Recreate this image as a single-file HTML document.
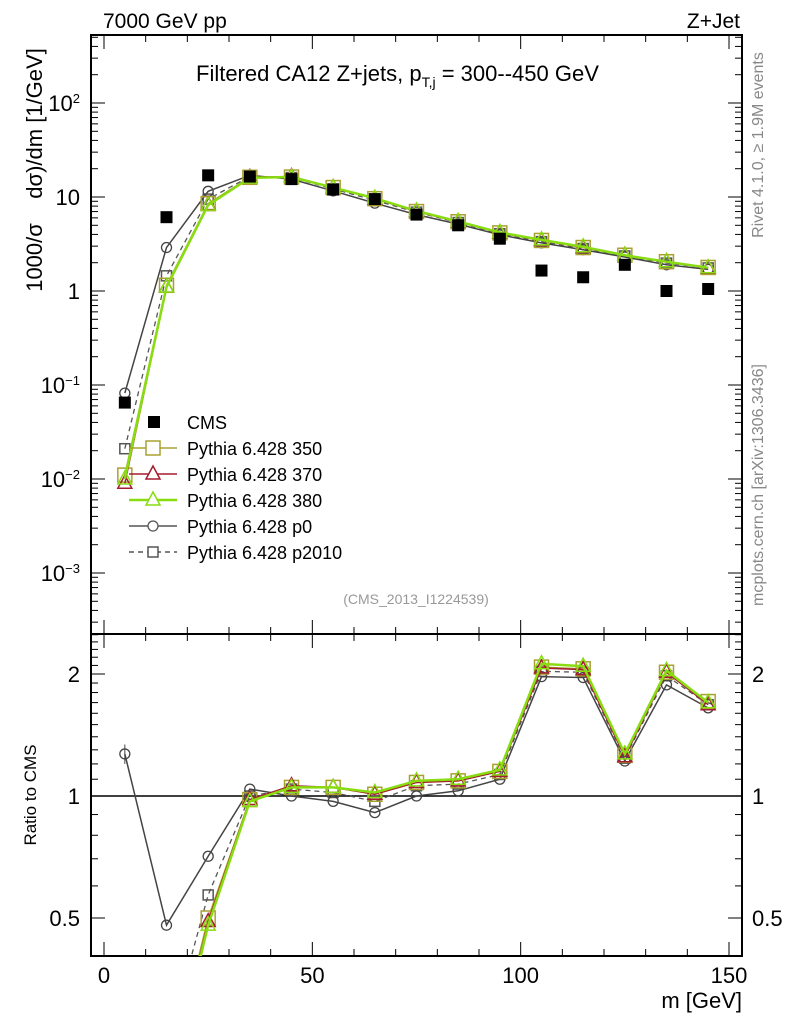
<!DOCTYPE html>
<html><head><meta charset="utf-8"><style>
html,body{margin:0;background:#fff;width:786px;height:1024px;overflow:hidden;}
#wrap{width:786px;height:1024px;overflow:hidden;}
svg{display:block;font-family:"Liberation Sans",sans-serif;}
</style></head><body>
<div id="wrap"></div>
<script>
var bins=[5,15,25,35,45,55,65,75,85,95,105,115,125,135,145];
var cms=[0.065,6.1,17,16.5,15.5,12,9.5,6.5,5,3.6,1.65,1.4,1.9,1.0,1.05];
var p350=[0.011,1.15,8.5,16.2,16.3,12.6,9.6,7.0,5.45,4.15,3.45,2.9,2.4,2.05,1.78];
var p370=[0.009,1.1,8.3,16.2,16.5,12.6,9.6,7.0,5.45,4.15,3.45,2.9,2.4,2.05,1.75];
var p380=[0.010,1.1,8.2,16.0,16.3,12.6,9.7,7.1,5.5,4.2,3.5,2.95,2.4,2.05,1.77];
var pp0=[0.082,2.9,11.5,17,15.5,11.6,8.6,6.5,5.15,3.96,3.25,2.75,2.3,1.9,1.7];
var p2010=[0.021,1.45,9.5,16.5,16.1,12.2,9.2,6.9,5.35,4.07,3.35,2.83,2.36,1.98,1.76];
var r350=[0.17,0.19,0.5,0.98,1.05,1.05,1.01,1.08,1.09,1.15,2.08,2.06,1.26,2.02,1.71];
var r370=[0.14,0.18,0.49,0.98,1.06,1.05,1.01,1.08,1.09,1.15,2.07,2.05,1.25,2.02,1.68];
var r380=[0.15,0.18,0.48,0.97,1.05,1.05,1.02,1.09,1.10,1.16,2.12,2.09,1.27,2.04,1.70];
var rp0=[1.27,0.48,0.71,1.04,1.0,0.97,0.91,1.0,1.03,1.10,1.97,1.96,1.22,1.88,1.65];
var r2010=[0.32,0.24,0.57,1.0,1.04,1.02,0.97,1.06,1.07,1.13,2.03,2.02,1.24,1.98,1.68];
var xTicks=[0,50,100,150];
var mainExp=[-3,-2,-1,0,1,2];
var mainLabels=["10<tspan dy='-8' font-size='13'>−3</tspan>","10<tspan dy='-8' font-size='13'>−2</tspan>","10<tspan dy='-8' font-size='13'>−1</tspan>","1","10","10<tspan dy='-8' font-size='13'>2</tspan>"];
var ratioTicks=[0.5,1,2];

try{
var L=91,R=742,T=35,MB=634,RB=956;
function X(v){return 104+v*(729-104)/150;}
function Y(v){return 291-94*Math.log10(v);}
function RY(v){return 796-122*Math.log(v)/Math.LN2;}
var h='';
h+='<defs><clipPath id="cm"><rect x="'+L+'" y="'+T+'" width="'+(R-L)+'" height="'+(MB-T)+'"/></clipPath><clipPath id="cr"><rect x="'+L+'" y="'+MB+'" width="'+(R-L)+'" height="'+(RB-MB)+'"/></clipPath></defs>';
h+='<rect x="'+L+'" y="'+T+'" width="'+(R-L)+'" height="'+(MB-T)+'" fill="none" stroke="#000" stroke-width="2"/>';
h+='<rect x="'+L+'" y="'+MB+'" width="'+(R-L)+'" height="'+(RB-MB)+'" fill="none" stroke="#000" stroke-width="2"/>';
for(var v=0;v<=150;v+=10){var x=X(v);var l=(v%50==0)?14:7;
 h+='<line x1="'+x+'" y1="'+T+'" x2="'+x+'" y2="'+(T+l)+'" stroke="#000"/>';
 h+='<line x1="'+x+'" y1="'+MB+'" x2="'+x+'" y2="'+(MB-l)+'" stroke="#000"/>';
 h+='<line x1="'+x+'" y1="'+MB+'" x2="'+x+'" y2="'+(MB+l)+'" stroke="#000"/>';
 h+='<line x1="'+x+'" y1="'+RB+'" x2="'+x+'" y2="'+(RB-l)+'" stroke="#000"/>';}
xTicks.forEach(function(v){h+='<text x="'+X(v)+'" y="983" font-size="22" text-anchor="middle">'+v+'</text>';});
h+='<text x="742" y="1008" font-size="22" text-anchor="end">m [GeV]</text>';
for(var d=-4;d<=2;d++){for(var k=1;k<10;k++){var vv=k*Math.pow(10,d);var y=Y(vv);if(y<T||y>MB)continue;var ll=k==1?14:7;
 h+='<line x1="'+L+'" y1="'+y+'" x2="'+(L+ll)+'" y2="'+y+'" stroke="#000"/><line x1="'+R+'" y1="'+y+'" x2="'+(R-ll)+'" y2="'+y+'" stroke="#000"/>';}}
mainExp.forEach(function(e,i){h+='<text x="80" y="'+(Y(Math.pow(10,e))+8)+'" font-size="22" text-anchor="end">'+mainLabels[i]+'</text>';});
h+='<text transform="translate(42,170) rotate(-90)" font-size="22" text-anchor="middle">1000/σ&#160;&#160;&#160;&#160;dσ)/dm [1/GeV]</text>';
var rmin=[0.4,0.5,0.6,0.7,0.8,0.9,1,1.1,1.2,1.3,1.4,1.5,1.6,1.7,1.8,1.9,2,2.1,2.2,2.3,2.4,2.5];
rmin.forEach(function(v){var y=RY(v);if(y<MB||y>RB)return;var l=(v==0.5||v==1||v==2)?14:7;
 h+='<line x1="'+L+'" y1="'+y+'" x2="'+(L+l)+'" y2="'+y+'" stroke="#000"/><line x1="'+R+'" y1="'+y+'" x2="'+(R-l)+'" y2="'+y+'" stroke="#000"/>';});
ratioTicks.forEach(function(v){h+='<text x="80" y="'+(RY(v)+8)+'" font-size="22" text-anchor="end">'+v+'</text><text x="752" y="'+(RY(v)+8)+'" font-size="22">'+v+'</text>';});
h+='<text transform="translate(36,795) rotate(-90)" font-size="17" text-anchor="middle">Ratio to CMS</text>';
h+='<line x1="'+L+'" y1="'+RY(1)+'" x2="'+R+'" y2="'+RY(1)+'" stroke="#000" stroke-width="1.5"/>';
h+='<text x="103" y="28" font-size="21">7000 GeV pp</text>';
h+='<text x="740" y="28" font-size="21" text-anchor="end">Z+Jet</text>';
h+='<text x="196" y="81" font-size="22">Filtered CA12 Z+jets, p<tspan dy="6" font-size="14">T,j</tspan><tspan dy="-6"> = 300--450 GeV</tspan></text>';
h+='<text x="416" y="604" font-size="14" fill="#999" text-anchor="middle">(CMS_2013_I1224539)</text>';
h+='<text transform="translate(763,145) rotate(-90)" font-size="16" fill="#888" text-anchor="middle">Rivet 4.1.0, ≥ 1.9M events</text>';
h+='<text transform="translate(763,485) rotate(-90)" font-size="16" fill="#888" text-anchor="middle">mcplots.cern.ch [arXiv:1306.3436]</text>';
function mark(type,x,y,c,fill){
 if(type=='sq')return '<rect x="'+(x-7)+'" y="'+(y-7)+'" width="14" height="14" fill="'+fill+'" stroke="'+c+'" stroke-width="1.5"/>';
 if(type=='ssq')return '<rect x="'+(x-5)+'" y="'+(y-5)+'" width="10" height="10" fill="'+fill+'" stroke="'+c+'" stroke-width="1.5"/>';
 if(type=='tri')return '<polygon points="'+x+','+(y-8)+' '+(x-7)+','+(y+5)+' '+(x+7)+','+(y+5)+'" fill="'+fill+'" stroke="'+c+'" stroke-width="1.5"/>';
 if(type=='ci')return '<circle cx="'+x+'" cy="'+y+'" r="5" fill="'+fill+'" stroke="'+c+'" stroke-width="1.3"/>';
 return '';}
var series=[
 ['pythia-p2010',p2010,r2010,'#555','ssq','5,4',1.3],
 ['pythia-p0',pp0,rp0,'#444','ci','none',1.5],
 ['pythia-350',p350,r350,'#aaa030','sq','none',1.5],
 ['pythia-370',p370,r370,'#a51c30','tri','none',1.5],
 ['pythia-380',p380,r380,'#88dd11','tri','none',2.5]];
series.forEach(function(s){
 var pm=bins.map(function(b,i){return X(b)+','+Y(s[1][i]);}).join(' ');
 var pr=bins.map(function(b,i){return X(b)+','+RY(s[2][i]);}).join(' ');
 h+='<g clip-path="url(#cm)"><polyline points="'+pm+'" fill="none" stroke="'+s[3]+'" stroke-width="'+s[6]+'" stroke-dasharray="'+s[5]+'"/>';
 bins.forEach(function(b,i){h+=mark(s[4],X(b),Y(s[1][i]),s[3],'none');});h+='</g>';
 h+='<g clip-path="url(#cr)"><polyline points="'+pr+'" fill="none" stroke="'+s[3]+'" stroke-width="'+s[6]+'" stroke-dasharray="'+s[5]+'"/>';
 bins.forEach(function(b,i){h+=mark(s[4],X(b),RY(s[2][i]),s[3],'none');});h+='</g>';
});
h+='<line x1="'+X(5)+'" y1="'+RY(1.34)+'" x2="'+X(5)+'" y2="'+RY(1.20)+'" stroke="#444"/>';
h+='<g>';
bins.forEach(function(b,i){h+='<rect x="'+(X(b)-6)+'" y="'+(Y(cms[i])-6)+'" width="12" height="12" fill="#000"/>';});
h+='</g>';
var leg=[['CMS','#000','cms','none'],['Pythia 6.428 350','#aaa030','sq','none'],['Pythia 6.428 370','#a51c30','tri','none'],['Pythia 6.428 380','#88dd11','tri','none'],['Pythia 6.428 p0','#555','ci','none'],['Pythia 6.428 p2010','#555','ssq','5,4']];
leg.forEach(function(e,i){var y=422+i*26;
 h+='<g>';
 if(e[2]=='cms')h+='<rect x="148" y="'+(y-6)+'" width="12" height="12" fill="#000"/>';
 else{h+='<line x1="129" y1="'+y+'" x2="177" y2="'+y+'" stroke="'+e[1]+'" stroke-width="'+(i==3?2.5:1.5)+'" stroke-dasharray="'+e[3]+'"/>';h+=mark(e[2],153,y,e[1],'#fff');}
 h+='<text x="187" y="'+(y+7)+'" font-size="18">'+e[0]+'</text></g>';});
document.getElementById('wrap').innerHTML='<svg xmlns="http://www.w3.org/2000/svg" width="786" height="1024">'+h+'</svg>';
}catch(err){document.getElementById('wrap').textContent='';}
</script>
</body></html>
